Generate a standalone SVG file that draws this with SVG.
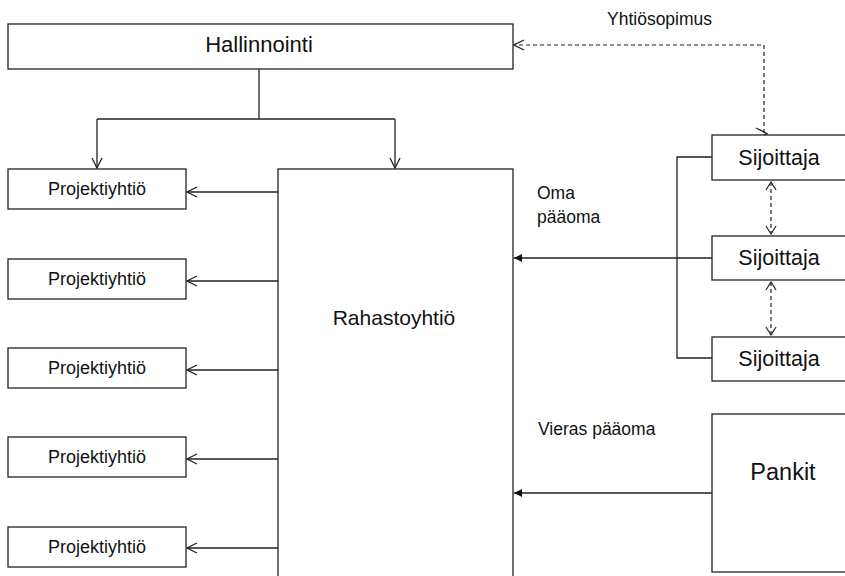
<svg xmlns="http://www.w3.org/2000/svg" width="845" height="576" viewBox="0 0 845 576">
<style>
.box{fill:#fff;stroke:#222;stroke-width:1.3}
.ln{fill:none;stroke:#222;stroke-width:1.3}
.dash{fill:none;stroke:#222;stroke-width:1.2;stroke-dasharray:4 3}
text{font-family:"Liberation Sans",Arial,sans-serif;fill:#111;text-anchor:middle}
.s{font-size:18px}
.m{font-size:21px}
.h{font-size:22px}
.sj{font-size:21.5px}
.l{font-size:23.5px}
.lab{text-anchor:start;font-size:17.5px}
</style>
<defs>
<marker id="open" markerUnits="userSpaceOnUse" viewBox="0 0 12 12" refX="11" refY="6" markerWidth="12" markerHeight="12" orient="auto">
<path d="M1,1 L11,6 L1,11" fill="none" stroke="#222" stroke-width="1.3"/>
</marker>
<marker id="openS" markerUnits="userSpaceOnUse" viewBox="0 0 10 12" refX="9" refY="6" markerWidth="10" markerHeight="12" orient="auto-start-reverse">
<path d="M1,1 L9,6 L1,11" fill="none" stroke="#222" stroke-width="1.2"/>
</marker>
<marker id="fill" markerUnits="userSpaceOnUse" viewBox="0 0 10 10" refX="9" refY="5" markerWidth="10" markerHeight="10" orient="auto">
<path d="M1,1 L9,5 L1,9 Z" fill="#111"/>
</marker>
</defs>

<g id="connectors">
<path class="ln" d="M259,69 V119"/>
<path class="ln" d="M97,119 H395"/>
<path class="ln" d="M97,119 V168" marker-end="url(#open)"/>
<path class="ln" d="M395,119 V168" marker-end="url(#open)"/>
<path class="ln" d="M278,192 H187" marker-end="url(#open)"/>
<path class="ln" d="M278,281 H187" marker-end="url(#open)"/>
<path class="ln" d="M278,370 H187" marker-end="url(#open)"/>
<path class="ln" d="M278,459 H187" marker-end="url(#open)"/>
<path class="ln" d="M278,548 H187" marker-end="url(#open)"/>
<path class="ln" d="M712,157 H677 V358 H712"/>
<path class="ln" d="M712,258 H514" marker-end="url(#fill)"/>
<path class="ln" d="M712,493 H514" marker-end="url(#fill)"/>
<path class="dash" d="M764,133 V45 H514" marker-end="url(#open)"/>
<path class="ln" d="M756,128 L767,133.5 L756,139" stroke-width="1.2"/>
<path class="dash" d="M771,182 V234" marker-start="url(#openS)" marker-end="url(#openS)"/>
<path class="dash" d="M771,282 V335" marker-start="url(#openS)" marker-end="url(#openS)"/>
<text class="lab" x="607" y="25">Yhtiösopimus</text>
<text class="lab" x="537" y="199">Oma</text>
<text class="lab" x="537" y="223">pääoma</text>
<text class="lab" x="538" y="435">Vieras pääoma</text>
</g>

<g id="hallinnointi">
<rect class="box" x="8" y="24" width="505" height="45"/>
<text class="h" x="259" y="52">Hallinnointi</text>
</g>
<g id="rahastoyhtio">
<rect class="box" x="278" y="169" width="235" height="420"/>
<text class="m" x="394" y="325">Rahastoyhtiö</text>
</g>
<g id="projekti1">
<rect class="box" x="8" y="169" width="178" height="40"/>
<text class="s" x="97" y="195">Projektiyhtiö</text>
</g>
<g id="projekti2">
<rect class="box" x="8" y="259" width="178" height="40"/>
<text class="s" x="97" y="285">Projektiyhtiö</text>
</g>
<g id="projekti3">
<rect class="box" x="8" y="348" width="178" height="40"/>
<text class="s" x="97" y="374">Projektiyhtiö</text>
</g>
<g id="projekti4">
<rect class="box" x="8" y="437" width="178" height="40"/>
<text class="s" x="97" y="463">Projektiyhtiö</text>
</g>
<g id="projekti5">
<rect class="box" x="8" y="527" width="178" height="40"/>
<text class="s" x="97" y="553">Projektiyhtiö</text>
</g>
<g id="sijoittaja1">
<rect class="box" x="712" y="135" width="160" height="45"/>
<text class="sj" x="779" y="165">Sijoittaja</text>
</g>
<g id="sijoittaja2">
<rect class="box" x="712" y="236" width="160" height="44"/>
<text class="sj" x="779" y="265">Sijoittaja</text>
</g>
<g id="sijoittaja3">
<rect class="box" x="712" y="337" width="160" height="44"/>
<text class="sj" x="779" y="366">Sijoittaja</text>
</g>
<g id="pankit">
<rect class="box" x="712" y="414" width="160" height="158"/>
<text class="l" x="783" y="480">Pankit</text>
</g>
</svg>
